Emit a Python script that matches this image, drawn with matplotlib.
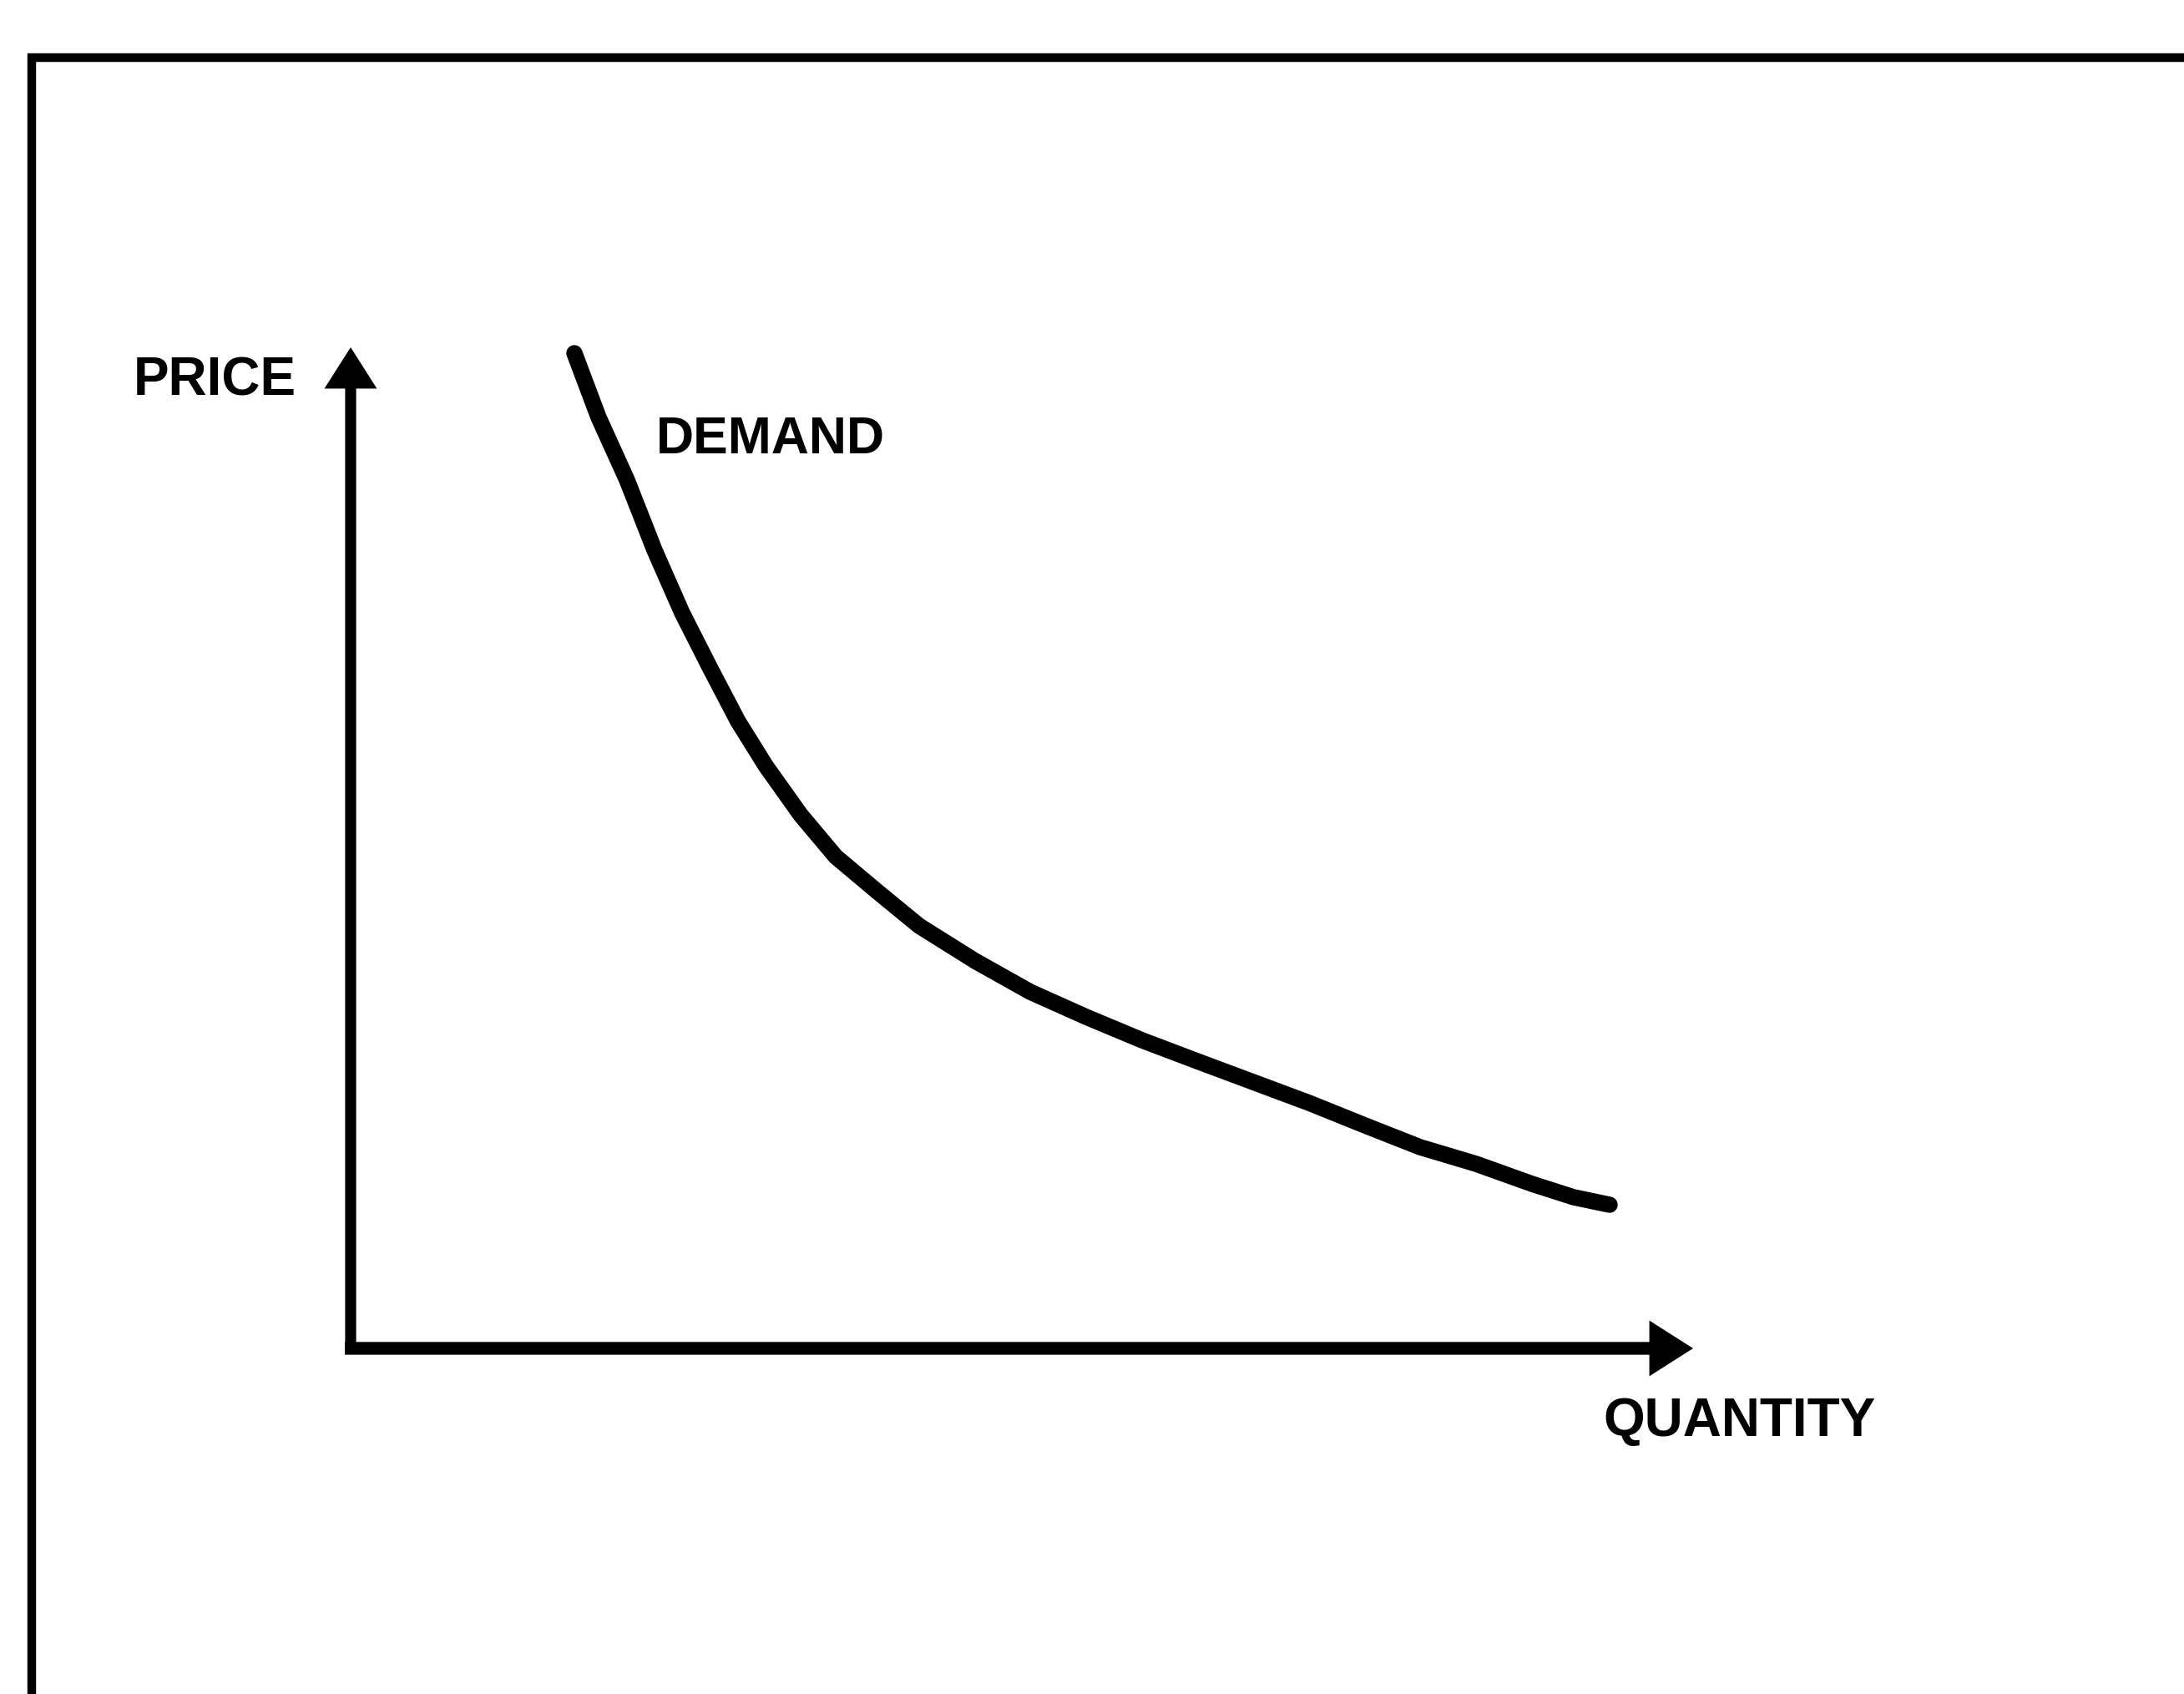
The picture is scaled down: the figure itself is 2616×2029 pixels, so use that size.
import matplotlib

matplotlib.use("Agg")
import matplotlib.pyplot as plt
from matplotlib.patches import FancyArrowPatch

# demand curve (quantity, price in arbitrary units)
quantity = [2.68, 2.97, 3.31, 3.64, 3.97, 4.31, 4.64, 4.97, 5.39, 5.81, 6.31, 6.81,
            7.48, 8.14, 8.81, 9.48, 10.14, 10.81, 11.48, 12.15, 12.81, 13.48, 14.15,
            14.65, 15.08]
price = [11.92, 11.15, 10.40, 9.56, 8.81, 8.14, 7.51, 6.98, 6.39, 5.89, 5.47, 5.06,
         4.64, 4.27, 3.97, 3.69, 3.44, 3.19, 2.94, 2.67, 2.41, 2.21, 1.97, 1.81, 1.72]

x_label = "QUANTITY"
y_label = "PRICE"
curve_label = "DEMAND"

W, H = 2616, 2029
ORIGIN = (420, 1615)   # pixel position of the axes corner
UNIT = 100.0           # pixels per unit


def px(x, y):
    """pixel position -> data coordinates"""
    return (x - ORIGIN[0]) / UNIT, (ORIGIN[1] - y) / UNIT


fig = plt.figure(figsize=(W / 100, H / 100), dpi=100)
ax = fig.add_axes([0, 0, 1, 1])
x0, y_top = px(0, 0)
x1, y_bot = px(W, H)
ax.set_xlim(x0, x1)
ax.set_ylim(y_bot, y_top)
ax.axis("off")

fonts = ["Liberation Sans", "DejaVu Sans"]

# frame (top and left edges only)
bx, by = px(38, 69)
ax.plot([bx, bx, x1], [y_bot, by, by], color="black", lw=7.5, solid_joinstyle="miter")

# axes with arrow heads
axis_arrows = [
    (px(420, 1622), px(420, 416), 9.5),   # price axis
    (px(413, 1615), px(2028, 1615), 11),  # quantity axis
]
for start, tip, width in axis_arrows:
    ax.add_patch(FancyArrowPatch(start, tip, arrowstyle="-|>,head_length=22,head_width=14",
                                 mutation_scale=1, lw=width, color="black",
                                 shrinkA=0, shrinkB=0, capstyle="butt", joinstyle="miter"))

# demand curve
ax.plot(quantity, price, color="black", lw=14, solid_capstyle="round", solid_joinstyle="round")

ax.text(*px(160, 473), y_label, fontsize=46, fontweight="bold", family=fonts,
        ha="left", va="baseline")
ax.text(*px(786, 543), curve_label, fontsize=45, fontweight="bold", family=fonts,
        ha="left", va="baseline")
ax.text(*px(1920, 1720), x_label, fontsize=46, fontweight="bold", family=fonts,
        ha="left", va="baseline")

fig.savefig("out.png", dpi=100)
